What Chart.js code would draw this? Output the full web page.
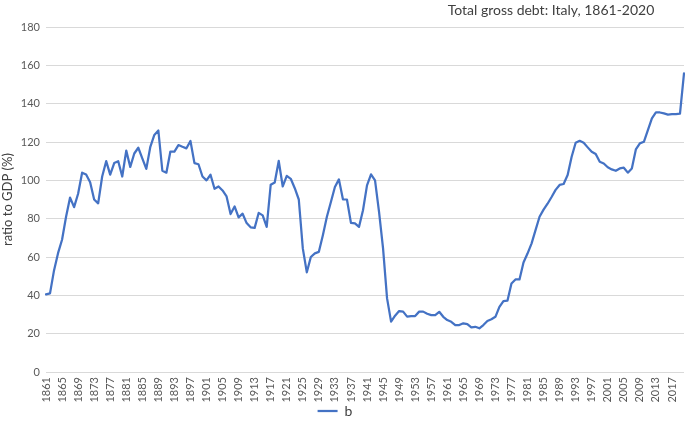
<!DOCTYPE html>
<html><head><meta charset="utf-8">
<script src="https://cdn.jsdelivr.net/npm/chart.js@4"></script>
<style>html,body{margin:0;padding:0;background:#fff}canvas{display:block}</style>
</head><body>
<canvas id="c" width="685" height="428"></canvas>
<script>
const chartTitle = 'Total gross debt: Italy, 1861-2020';
const yAxisTitle = 'ratio to GDP (%)';
const seriesName = 'b';

const years = [
 '1861','1862','1863','1864','1865','1866','1867','1868','1869','1870',
 '1871','1872','1873','1874','1875','1876','1877','1878','1879','1880',
 '1881','1882','1883','1884','1885','1886','1887','1888','1889','1890',
 '1891','1892','1893','1894','1895','1896','1897','1898','1899','1900',
 '1901','1902','1903','1904','1905','1906','1907','1908','1909','1910',
 '1911','1912','1913','1914','1915','1916','1917','1918','1919','1920',
 '1921','1922','1923','1924','1925','1926','1927','1928','1929','1930',
 '1931','1932','1933','1934','1935','1936','1937','1938','1939','1940',
 '1941','1942','1943','1944','1945','1946','1947','1948','1949','1950',
 '1951','1952','1953','1954','1955','1956','1957','1958','1959','1960',
 '1961','1962','1963','1964','1965','1966','1967','1968','1969','1970',
 '1971','1972','1973','1974','1975','1976','1977','1978','1979','1980',
 '1981','1982','1983','1984','1985','1986','1987','1988','1989','1990',
 '1991','1992','1993','1994','1995','1996','1997','1998','1999','2000',
 '2001','2002','2003','2004','2005','2006','2007','2008','2009','2010',
 '2011','2012','2013','2014','2015','2016','2017','2018','2019','2020'
];

const debtRatio = [
 40.5, 41.0, 53.0, 62.0, 69.0, 81.0, 91.0, 86.0, 93.0, 104.0,
 103.0, 99.0, 90.0, 88.0, 102.0, 110.0, 103.0, 109.0, 110.0, 102.0,
 115.5, 107.0, 114.0, 117.0, 111.5, 106.0, 117.5, 123.7, 126.0, 105.0,
 104.0, 115.0, 115.0, 118.4, 117.5, 116.7, 120.5, 109.0, 108.4, 102.0,
 100.0, 102.9, 95.6, 96.8, 94.7, 91.6, 82.4, 86.4, 80.7, 82.6,
 77.7, 75.5, 75.2, 83.0, 81.7, 75.7, 97.7, 98.9, 110.1, 96.8,
 102.3, 100.8, 95.9, 90.0, 64.5, 52.0, 60.0, 61.9, 62.7, 71.4,
 81.0, 88.7, 96.5, 100.5, 90.1, 90.0, 77.8, 77.5, 75.7, 84.4,
 97.4, 103.1, 100.0, 83.5, 64.5, 38.4, 26.3, 29.4, 31.8, 31.5,
 28.9, 29.2, 29.2, 31.5, 31.5, 30.4, 29.7, 29.7, 31.4, 28.8,
 27.1, 26.2, 24.5, 24.5, 25.4, 25.0, 23.3, 23.6, 22.8, 24.5,
 26.6, 27.5, 28.8, 34.0, 37.0, 37.2, 46.2, 48.3, 48.3, 57.1,
 61.8, 67.0, 74.0, 81.0, 84.7, 87.8, 91.3, 95.0, 97.6, 98.1,
 102.8, 112.3, 119.6, 120.6, 119.6, 117.2, 114.9, 113.7, 109.7, 108.8,
 106.8, 105.7, 105.0, 106.2, 106.6, 104.0, 106.2, 116.1, 119.3, 120.1,
 126.2, 132.3, 135.4, 135.4, 134.9, 134.3, 134.5, 134.6, 134.8, 155.8
];

const tickLabels = [
 '1861','1865','1869','1873','1877','1881','1885','1889','1893','1897',
 '1901','1905','1909','1913','1917','1921','1925','1929','1933','1937',
 '1941','1945','1949','1953','1957','1961','1965','1969','1973','1977',
 '1981','1985','1989','1993','1997','2001','2005','2009','2013','2017'
];

const yMin = 0, yMax = 180, yStep = 20;

const FONT = 'Lato, "Open Sans", sans-serif';

const titlePlugin = {
  id: 'customTitle',
  afterLayout(chart) {
    if (chart.legend) { chart.legend.left -= 7; chart.legend.right -= 7; }
  },
  afterDraw(chart) {
    const ctx = chart.ctx;
    ctx.save();
    ctx.font = '14px ' + FONT;
    ctx.fillStyle = '#404040';
    ctx.textAlign = 'center';
    ctx.textBaseline = 'middle';
    ctx.fillText(chartTitle, 551, 10);
    ctx.restore();
  }
};

new Chart(document.getElementById('c'), {
  type: 'line',
  data: {
    labels: years,
    datasets: [{
      label: seriesName,
      data: debtRatio,
      borderColor: '#4472C4',
      backgroundColor: '#4472C4',
      borderWidth: 2.25,
      pointRadius: 0,
      pointHoverRadius: 0,
      tension: 0,
      fill: false,
      borderJoinStyle: 'round',
      borderCapStyle: 'round'
    }]
  },
  options: {
    responsive: false,
    animation: false,
    events: [],
    layout: { padding: { top: 27, left: 0, right: 1, bottom: 0 } },
    plugins: {
      title: { display: false },
      tooltip: { enabled: false },
      legend: {
        position: 'bottom',
        labels: {
          usePointStyle: true,
          pointStyle: 'line',
          pointStyleWidth: 20,
          color: '#404040',
          font: { family: FONT, size: 14 },
          padding: 2
        }
      }
    },
    scales: {
      x: {
        grid: { display: false, drawTicks: false },
        border: { display: false },
        ticks: {
          autoSkip: false,
          maxRotation: 90,
          minRotation: 90,
          padding: 5,
          color: '#595959',
          font: { family: FONT, size: 11 },
          callback(v, i) { const l = years[i]; return tickLabels.includes(l) ? l : ''; }
        },
        afterFit(s) {
          const lh = s.chart.legend ? s.chart.legend.height : 0;
          s.height = 428 - 372 - lh;
          s.paddingLeft = 0; s.paddingRight = 0;
        }
      },
      y: {
        min: yMin, max: yMax,
        ticks: { stepSize: yStep, color: '#595959', font: { family: FONT, size: 11 }, padding: 6 },
        grid: { color: '#d9d9d9', lineWidth: 1, drawTicks: false },
        border: { display: false },
        title: { display: true, text: yAxisTitle, color: '#404040', font: { family: FONT, size: 13 }, padding: 0 },
        afterFit(s) { s.width = 46; s.paddingTop = 0; s.paddingBottom = 0; }
      }
    }
  },
  plugins: [titlePlugin]
});
</script>
</body></html>
